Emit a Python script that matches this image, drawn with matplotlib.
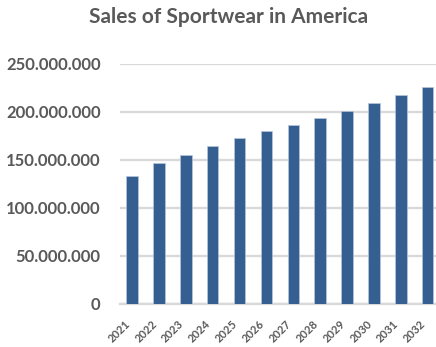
import matplotlib
matplotlib.use("Agg")
import matplotlib.pyplot as plt
from matplotlib.ticker import FuncFormatter, MultipleLocator

# yearly sales figures
years = ["2021", "2022", "2023", "2024", "2025", "2026",
         "2027", "2028", "2029", "2030", "2031", "2032"]
sales = [133.6e6, 146.6e6, 154.9e6, 164.6e6, 172.6e6, 179.9e6,
         186.5e6, 193.4e6, 200.7e6, 209.1e6, 217.4e6, 225.7e6]

TEXT = "#595959"
GRID = "#d9d9d9"
BAR = "#365f91"

plt.rcParams['font.family'] = ['Lato', 'DejaVu Sans']

fig = plt.figure(figsize=(4.36, 3.47), dpi=100)
ax = fig.add_axes([120 / 436, 43 / 347, 320 / 436, 240 / 347])

x = range(len(years))
ax.bar(x, sales, width=0.43, color=BAR, edgecolor="#b8c6da", linewidth=0.5, zorder=3)

ax.set_ylim(0, 250e6)
ax.set_xlim(-0.45, 11.46)
ax.yaxis.set_major_locator(MultipleLocator(50e6))
ax.yaxis.set_major_formatter(FuncFormatter(lambda v, p: f"{v:,.0f}".replace(",", ".")))
ax.grid(axis="y", color=GRID, linewidth=1.7, zorder=0)

for side in ("top", "right", "left"):
    ax.spines[side].set_visible(False)
ax.spines["bottom"].set_color(GRID)
ax.spines["bottom"].set_linewidth(1.7)

ax.set_xticks(list(x))
ax.set_xticklabels(years, rotation=45, ha="right", fontsize=8, fontweight="bold", color=TEXT)
ax.tick_params(axis="x", length=0, pad=10)
ax.tick_params(axis="y", length=0, pad=14, labelsize=12, labelcolor=TEXT)
for lbl in ax.get_yticklabels():
    lbl.set_fontweight("bold")

fig.text(229 / 436, 1 - 17 / 347, "Sales of Sportwear in America", ha="center", va="center",
         fontsize=15, fontweight="bold", color=TEXT)

fig.savefig("out.png", dpi=100)
